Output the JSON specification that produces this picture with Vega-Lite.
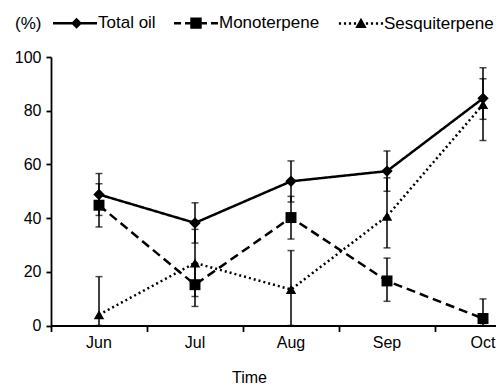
{
  "$schema": "https://vega.github.io/schema/vega-lite/v6.json",
  "autosize": {"type": "none"},
  "padding": {"left": 51, "top": 57, "right": 0, "bottom": 62},
  "width": 445,
  "height": 268.5,
  "background": "white",
  "config": {
    "font": "Liberation Sans",
    "view": {"stroke": null},
    "axis": {
      "labelFont": "Liberation Sans", "labelFontSize": 16, "labelColor": "black",
      "titleFont": "Liberation Sans", "titleFontSize": 16, "titleColor": "black", "titleFontWeight": "normal",
      "domainColor": "black", "domainWidth": 1.8, "tickColor": "black", "tickWidth": 1.8, "grid": false
    }
  },
  "data": {"values": [
    {"month": "Jun", "series": "Total oil", "value": 48.8, "lo": 41.0, "hi": 56.6},
    {"month": "Jul", "series": "Total oil", "value": 38.2, "lo": 30.7, "hi": 45.7},
    {"month": "Aug", "series": "Total oil", "value": 53.7, "lo": 46.0, "hi": 61.3},
    {"month": "Sep", "series": "Total oil", "value": 57.5, "lo": 50.0, "hi": 65.0},
    {"month": "Oct", "series": "Total oil", "value": 84.6, "lo": 76.8, "hi": 91.9},
    {"month": "Jun", "series": "Monoterpene", "value": 44.8, "lo": 36.7, "hi": 52.8},
    {"month": "Jul", "series": "Monoterpene", "value": 15.2, "lo": 7.1, "hi": 23.0},
    {"month": "Aug", "series": "Monoterpene", "value": 40.2, "lo": 32.2, "hi": 48.1},
    {"month": "Sep", "series": "Monoterpene", "value": 16.6, "lo": 9.0, "hi": 25.1},
    {"month": "Oct", "series": "Monoterpene", "value": 2.6, "lo": 0, "hi": 9.9},
    {"month": "Jun", "series": "Sesquiterpene", "value": 4.0, "lo": 0, "hi": 18.2},
    {"month": "Jul", "series": "Sesquiterpene", "value": 23.3, "lo": 10.8, "hi": 35.8},
    {"month": "Aug", "series": "Sesquiterpene", "value": 13.4, "lo": 0, "hi": 27.9},
    {"month": "Sep", "series": "Sesquiterpene", "value": 40.7, "lo": 28.9, "hi": 55.0},
    {"month": "Oct", "series": "Sesquiterpene", "value": 82.3, "lo": 68.9, "hi": 96.0}
  ]},
  "encoding": {
    "x": {
      "field": "month", "type": "nominal", "sort": ["Jun", "Jul", "Aug", "Sep", "Oct"],
      "scale": {"type": "band", "paddingInner": 0, "paddingOuter": 0, "range": [0, 480]},
      "axis": {"title": "Time", "labelAngle": 0, "tickSize": 6, "labelPadding": 3, "bandPosition": 0,
               "titleX": 198, "titleY": 57, "titleBaseline": "alphabetic", "titleAnchor": "middle", "titleAlign": "center"}
    }
  },
  "layer": [
    {
      "mark": {"type": "rule", "color": "black", "strokeWidth": 1.5},
      "encoding": {
        "y": {"field": "lo", "type": "quantitative"},
        "y2": {"field": "hi"}
      }
    },
    {
      "mark": {"type": "tick", "color": "black", "size": 7, "thickness": 1.5, "orient": "horizontal"},
      "encoding": {"y": {"field": "lo", "type": "quantitative"}}
    },
    {
      "mark": {"type": "tick", "color": "black", "size": 7, "thickness": 1.5, "orient": "horizontal"},
      "encoding": {"y": {"field": "hi", "type": "quantitative"}}
    },
    {
      "mark": {"type": "line", "color": "black", "strokeWidth": 2.5},
      "encoding": {
        "y": {"field": "value", "type": "quantitative",
              "scale": {"domain": [0, 100], "nice": false, "zero": true},
              "axis": {"title": null, "values": [0, 20, 40, 60, 80, 100], "tickSize": 5, "labelPadding": 5}},
        "detail": {"field": "series"},
        "strokeDash": {"field": "series", "type": "nominal",
                       "scale": {"domain": ["Total oil", "Monoterpene", "Sesquiterpene"], "range": [[1, 0], [9, 5], [2, 3]]},
                       "legend": null}
      }
    },
    {
      "mark": {"type": "point", "filled": true, "color": "black", "opacity": 1},
      "encoding": {
        "y": {"field": "value", "type": "quantitative"},
        "shape": {"field": "series", "type": "nominal",
                  "scale": {"domain": ["Total oil", "Monoterpene", "Sesquiterpene"], "range": ["diamond", "square", "triangle-up"]},
                  "legend": null},
        "size": {"field": "series", "type": "nominal",
                 "scale": {"domain": ["Total oil", "Monoterpene", "Sesquiterpene"], "range": [130, 110, 110]},
                 "legend": null}
      }
    },
    {
      "mark": {"type": "point", "filled": true, "color": "black", "opacity": 0, "size": 1936},
      "encoding": {
        "y": {"field": "value", "type": "quantitative"},
        "shape": {"field": "series", "type": "nominal",
                  "scale": {"domain": ["Total oil", "Monoterpene", "Sesquiterpene"],
                            "range": [
                              "M-1,-0.057H1V0.057H-1ZM0.07,-0.25L0.32,0L0.07,0.25L-0.18,0Z",
                              "M-1,-0.057H-0.68V0.057H-1ZM-0.5,-0.057H0.5V0.057H-0.5ZM0.68,-0.057H1V0.057H0.68ZM-0.26,-0.26H0.26V0.26H-0.26Z",
                              "M-1.005,-0.055H-0.905V0.055H-1.005ZM-0.777,-0.055H-0.677V0.055H-0.777ZM-0.55,-0.055H-0.45V0.055H-0.55ZM-0.323,-0.055H-0.223V0.055H-0.323ZM0.223,-0.055H0.323V0.055H0.223ZM0.45,-0.055H0.55V0.055H0.45ZM0.677,-0.055H0.777V0.055H0.677ZM0.905,-0.055H1.005V0.055H0.905ZM0,-0.26L0.26,0.2L-0.26,0.2Z"
                            ]},
                  "legend": {
                    "title": "(%)", "orient": "none", "legendX": -36, "legendY": -57, "direction": "horizontal",
                    "titleOrient": "left", "titleAnchor": "middle", "titleFont": "Liberation Sans", "titleFontSize": 17, "titleFontWeight": "normal", "titleColor": "black",
                    "titlePadding": 10, "titleBaseline": "top",
                    "labelFont": "Liberation Sans", "labelFontSize": 17, "labelColor": "black", "labelOffset": 0,
                    "symbolSize": 1936, "columnPadding": 15, "labelLimit": 200,
                    "encode": {"symbols": {"update": {
                      "opacity": {"value": 1}, "fillOpacity": {"value": 1},
                      "fill": {"value": "black"}, "strokeWidth": {"value": 0}, "size": {"value": 1936}
                    }}}
                  }}
      }
    }
  ],
  "resolve": {"scale": {"shape": "independent"}}
}
